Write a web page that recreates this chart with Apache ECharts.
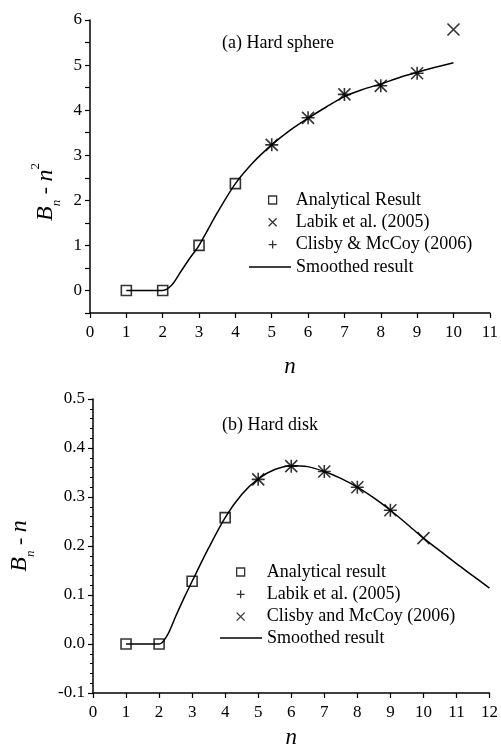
<!DOCTYPE html>
<html>
<head>
<meta charset="utf-8">
<script src="https://cdn.jsdelivr.net/npm/echarts@6/dist/echarts.min.js"></script>
<style>
html, body { margin: 0; padding: 0; background: #fff; }
#main { width: 501px; height: 752px; }
</style>
</head>
<body>
<div id="main"></div>
<script>
// (a) hard sphere
var sphereAnaN = [1, 2, 3, 4];
var sphereAnaV = [0, 0, 1.0, 2.37];
var sphereLabikN = [5, 6, 7, 8, 9, 10];
var sphereLabikV = [3.23, 3.83, 4.35, 4.54, 4.82, 5.79];
var sphereClisbyN = [5, 6, 7, 8, 9];
var sphereClisbyV = [3.23, 3.83, 4.35, 4.54, 4.82];
var sphereSmoothN = [1, 2, 2.25, 2.5, 2.75, 3, 3.5, 4, 4.5, 5, 5.5, 6, 6.5, 7, 7.5, 8, 8.5, 9, 9.5, 10];
var sphereSmoothV = [0, 0, 0.12, 0.42, 0.72, 1.0, 1.72, 2.37, 2.85, 3.23, 3.55, 3.82, 4.07, 4.3, 4.46, 4.58, 4.72, 4.84, 4.95, 5.05];

// (b) hard disk
var diskAnaN = [1, 2, 3, 4];
var diskAnaV = [0, 0, 0.128, 0.258];
var diskLabikN = [5, 6, 7, 8, 9];
var diskLabikV = [0.336, 0.363, 0.352, 0.320, 0.273];
var diskClisbyN = [5, 6, 7, 8, 9, 10];
var diskClisbyV = [0.336, 0.363, 0.352, 0.320, 0.273, 0.216];
var diskSmoothN = [1, 2, 2.25, 2.5, 2.75, 3, 3.5, 4, 4.5, 5, 5.5, 6, 6.5, 7, 7.5, 8, 8.5, 9, 9.5, 10, 10.5, 11, 11.5, 12];
var diskSmoothV = [0, 0, 0.018, 0.056, 0.093, 0.128, 0.196, 0.258, 0.305, 0.337, 0.356, 0.364, 0.362, 0.352, 0.338, 0.320, 0.298, 0.273, 0.245, 0.216, 0.190, 0.164, 0.139, 0.114];

var FONT = 'Liberation Serif';
var SQ = 'path://M0,0L10,0L10,10L0,10Z';
var CROSS = 'path://M0,0L10,10M10,0L0,10';
var PLUS = 'path://M5,0L5,10M0,5L10,5';

function pairs(xs, ys) {
    var out = [];
    for (var i = 0; i < xs.length; i++) out.push([xs[i], ys[i]]);
    return out;
}

function markSeries(name, idx, xs, ys, symbol, size) {
    return {
        name: name, type: 'scatter', xAxisIndex: idx, yAxisIndex: idx,
        data: pairs(xs, ys), symbol: symbol, symbolSize: size, z: 5,
        itemStyle: { color: 'transparent', borderColor: '#000', borderWidth: 1.6 }
    };
}

function lineSeries(name, idx, xs, ys) {
    return {
        name: name, type: 'line', xAxisIndex: idx, yAxisIndex: idx,
        data: pairs(xs, ys), smooth: 0.3, symbol: 'none', z: 2,
        lineStyle: { color: '#000', width: 1.5 }
    };
}

function xAxisDef(idx, max, gap) {
    return {
        type: 'value', gridIndex: idx, min: 0, max: max, interval: 1,
        name: 'n', nameLocation: 'middle', nameGap: gap,
        nameTextStyle: { fontFamily: FONT, fontStyle: 'italic', fontSize: 23, color: '#000' },
        axisLine: { onZero: false, lineStyle: { color: '#000', width: 1.5 } },
        axisTick: { inside: false, length: 5, lineStyle: { color: '#000', width: 1.2 } },
        axisLabel: { fontFamily: FONT, fontSize: 17, color: '#000', margin: 11 },
        splitLine: { show: false }
    };
}

var rich = {
    b: { fontFamily: FONT, fontStyle: 'italic', fontSize: 24, lineHeight: 34, verticalAlign: 'middle', color: '#000' },
    m: { fontFamily: FONT, fontSize: 22, verticalAlign: 'middle', color: '#000' },
    s: { fontFamily: FONT, fontStyle: 'italic', fontSize: 13, verticalAlign: 'bottom', color: '#000' },
    p: { fontFamily: FONT, fontSize: 13, verticalAlign: 'top', color: '#000' }
};

var legendText = { fontFamily: FONT, fontSize: 18, color: '#000' };

function markLegend(left, top, pad, items) {
    return {
        orient: 'vertical', left: left, top: top, itemWidth: 8, itemHeight: 8, itemGap: 4.3, padding: 0,
        selectedMode: false,
        textStyle: Object.assign({ padding: [0, 0, 0, pad] }, legendText),
        itemStyle: { color: 'transparent', borderColor: '#000', borderWidth: 1.3 },
        data: items
    };
}

function lineLegend(left, top) {
    return {
        orient: 'vertical', left: left, top: top, itemWidth: 42, itemHeight: 1.6, padding: 0,
        selectedMode: false, textStyle: legendText,
        itemStyle: { color: '#000', borderWidth: 0 },
        data: [{ name: 'Smoothed result', icon: 'rect' }]
    };
}

var option = {
    animation: false,
    backgroundColor: '#fff',
    title: [
        { text: '(a) Hard sphere', left: 222, top: 34, padding: 0,
          textStyle: { fontFamily: FONT, fontSize: 18, fontWeight: 'normal', color: '#000' } },
        { text: '(b) Hard disk', left: 222, top: 416, padding: 0,
          textStyle: { fontFamily: FONT, fontSize: 18, fontWeight: 'normal', color: '#000' } }
    ],
    grid: [
        { left: 90, top: 20, width: 402, height: 293 },
        { left: 91, top: 399, width: 401, height: 294 }
    ],
    legend: [
        markLegend(268, 191, 14, [{ name: 'Analytical Result', icon: SQ },
                                  { name: 'Labik et al. (2005)', icon: CROSS },
                                  { name: 'Clisby & McCoy (2006)', icon: PLUS }]),
        lineLegend(249, 258),
        markLegend(236, 563, 17, [{ name: 'Analytical result', icon: SQ },
                                  { name: 'Labik et al. (2005)', icon: PLUS },
                                  { name: 'Clisby and McCoy (2006)', icon: CROSS }]),
        lineLegend(220, 629)
    ],
    xAxis: [xAxisDef(0, 11, 42), xAxisDef(1, 12, 33)],
    yAxis: [
        {
            type: 'value', gridIndex: 0, min: -0.5, max: 6, interval: 0.5,
            name: '{b|B}{s|n}{m| - }{b|n}{p|2}', nameLocation: 'middle', nameRotate: 90, nameGap: 27,
            nameTextStyle: { rich: rich, padding: [0, 51, 0, 0] },
            axisLine: { lineStyle: { color: '#000', width: 1.5 } },
            axisTick: { length: 5, lineStyle: { color: '#000', width: 1.2 } },
            axisLabel: {
                fontFamily: FONT, fontSize: 17, color: '#000', margin: 8,
                formatter: function (v) { return Math.abs(v - Math.round(v)) < 1e-9 ? String(Math.round(v)) : ''; }
            },
            splitLine: { show: false }
        },
        {
            type: 'value', gridIndex: 1, min: -0.1, max: 0.5, interval: 0.1,
            name: '{b|B}{s|n}{m| - }{b|n}', nameLocation: 'middle', nameRotate: 90, nameGap: 56,
            nameTextStyle: { rich: rich },
            axisLine: { lineStyle: { color: '#000', width: 1.5 } },
            axisTick: { length: 5, lineStyle: { color: '#000', width: 1.2 } },
            minorTick: { show: true, splitNumber: 5, length: 3, lineStyle: { color: '#000', width: 1 } },
            axisLabel: {
                fontFamily: FONT, fontSize: 17, color: '#000', margin: 8,
                formatter: function (v) { return Math.abs(v) < 1e-9 ? '0.0' : v.toFixed(1); }
            },
            splitLine: { show: false }
        }
    ],
    series: [
        lineSeries('Smoothed result', 0, sphereSmoothN, sphereSmoothV),
        markSeries('Analytical Result', 0, sphereAnaN, sphereAnaV, SQ, 10),
        markSeries('Labik et al. (2005)', 0, sphereLabikN, sphereLabikV, CROSS, 12),
        markSeries('Clisby & McCoy (2006)', 0, sphereClisbyN, sphereClisbyV, PLUS, 13),
        lineSeries('Smoothed result', 1, diskSmoothN, diskSmoothV),
        markSeries('Analytical result', 1, diskAnaN, diskAnaV, SQ, 10),
        markSeries('Labik et al. (2005)', 1, diskLabikN, diskLabikV, PLUS, 13),
        markSeries('Clisby and McCoy (2006)', 1, diskClisbyN, diskClisbyV, CROSS, 12)
    ]
};

var chart = echarts.init(document.getElementById('main'), null, { renderer: 'canvas' });
chart.setOption(option);
</script>
</body>
</html>
